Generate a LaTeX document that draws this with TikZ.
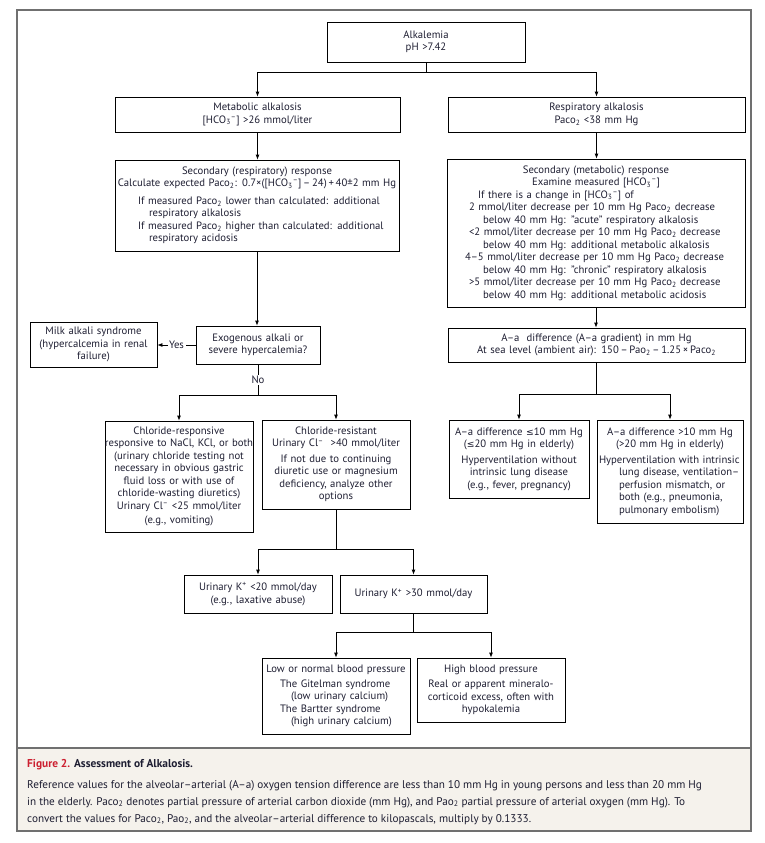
\documentclass[tikz,border=0pt]{standalone}
\usepackage{fontspec}
\setmainfont{PT Sans}
\newfontfamily\symfont[Scale=0.86]{DejaVu Sans}
\usetikzlibrary{arrows.meta}
\definecolor{inkblue}{RGB}{30,30,50}
\definecolor{framegray}{RGB}{112,112,112}
\definecolor{capfill}{RGB}{245,242,236}
\definecolor{figred}{RGB}{204,32,48}
\newcommand{\pco}{Paco\textsubscript{2}}
\newcommand{\pao}{Pao\textsubscript{2}}
\newcommand{\hco}{[HCO\textsubscript{3}\textsuperscript{–}]}
\newcommand{\lesym}{{\symfont ≤}}
\newcommand{\wide}[1]{\makebox[\linewidth][c]{#1}}
\newcommand{\boxfont}{\fontsize{10.7}{12.5}\selectfont}
\newcommand{\capfont}{\fontsize{11.2}{17}\selectfont}

\begin{document}
\begin{tikzpicture}[x=1pt,y=-1pt,
  box/.style={draw, line width=0.8pt, inner xsep=3pt, inner ysep=0pt, font=\boxfont, text=inkblue},
  arr/.style={line width=0.8pt, -{Latex[length=5pt,width=4pt]}},
  stem/.style={line width=0.8pt},
  lbl/.style={font=\boxfont, text=inkblue, fill=white, inner sep=1.5pt}]
  \useasboundingbox (0,0) rectangle (764,843);
  \fill[capfill] (17,748) rectangle (751,831);
  \draw[framegray, line width=1.5pt] (17,748) -- (751,748);
  \draw[framegray, line width=2pt] (17,10) rectangle (751,831);

  \node[box, align=center, text width=192pt, minimum height=40pt] (top) at (426,42)
    {Alkalemia\\ pH >7.42};
  \node[box, align=center, text width=279pt, minimum height=35pt] (metab) at (257.5,114.5)
    {Metabolic alkalosis\\ \hco{} >26 mmol/liter};
  \node[box, align=center, text width=291pt, minimum height=35pt] (resp) at (596.5,114.5)
    {Respiratory alkalosis\\ \pco{} <38 mm Hg};

  \node[box, text width=278pt, minimum height=91pt] (secresp) at (257,205.5)
    {\centering Secondary (respiratory) response\\
     \wide{Calculate expected \pco: 0.7×([HCO\textsubscript{3}\textsuperscript{–}]\,–\,24)\,+\,40±2 mm Hg}\par
     \vspace{5pt}\raggedright\leftskip=20pt
     If measured \pco{} lower than calculated: additional\\
     \hspace*{11pt}respiratory alkalosis\\
     If measured \pco{} higher than calculated: additional\\
     \hspace*{11pt}respiratory acidosis\par};
  \node[box, text width=292pt, minimum height=148pt] (secmet) at (596,233)
    {\centering Secondary (metabolic) response\\
     Examine measured \hco\par
     \raggedright\leftskip=19pt
     \hspace*{9pt}If there is a change in \hco{} of\\
     2 mmol/liter decrease per 10 mm Hg \pco{} decrease\\
     \hspace*{14pt}below 40 mm Hg: "acute" respiratory alkalosis\\
     <2 mmol/liter decrease per 10 mm Hg \pco{} decrease\\
     \hspace*{14pt}below 40 mm Hg: additional metabolic alkalosis\\
     \hspace*{-4pt}4–5 mmol/liter decrease per 10 mm Hg \pco{} decrease\\
     \hspace*{14pt}below 40 mm Hg: "chronic" respiratory alkalosis\\
     >5 mmol/liter decrease per 10 mm Hg \pco{} decrease\\
     \hspace*{14pt}below 40 mm Hg: additional metabolic acidosis\par};
  \node[box, align=center, text width=291pt, minimum height=34pt] (aa) at (596.5,345)
    {A–a\ \ difference (A–a gradient) in mm Hg\\
     At sea level (ambient air): 150\,–\,\pao\,–\,1.25\,×\,\pco};

  \node[box, align=center, text width=118pt, minimum height=38pt] (exo) at (258,345)
    {Exogenous alkali or\\ severe hypercalemia?};
  \node[box, align=center, text width=121pt, minimum height=45pt] (milk) at (93.5,344.5)
    {Milk alkali syndrome\\ (hypercalcemia in renal\\ failure)};

  \node[box, text width=142pt, minimum height=111pt] (clresp) at (179,476.5)
    {\centering Chloride-responsive\\ \wide{responsive to NaCl, KCl, or both}\\
     (urinary chloride testing not\\ necessary in obvious gastric\\
     fluid loss or with use of\\ chloride-wasting diuretics)\\
     Urinary Cl\textsuperscript{–} <25 mmol/liter\\[2pt] (e.g., vomiting)\par};
  \node[box, align=center, text width=142pt, minimum height=89pt] (clres) at (336,464.5)
    {Chloride-resistant\\ Urinary Cl\textsuperscript{–} \ >40 mmol/liter\\[3pt]
     If not due to continuing\\ diuretic use or magnesium\\ deficiency, analyze other\\ options};

  \node[box, align=center, text width=134pt, minimum height=78pt] (aalow) at (519,459)
    {A–a difference \lesym10 mm Hg\\ (\lesym20 mm Hg in elderly)\\[3pt]
     Hyperventilation without\\ intrinsic lung disease\\ (e.g., fever, pregnancy)};
  \node[box, inner xsep=1pt, text width=144pt, minimum height=103pt] (aahigh) at (670,471.5)
    {\centering A–a difference >10 mm Hg\\ (>20 mm Hg in elderly)\par
     \vspace{3pt}\raggedright \hspace*{1pt}\mbox{Hyperventilation with intrinsic}\\
     \hspace*{21pt}lung disease, ventilation–\\
     \hspace*{21pt}perfusion mismatch, or\\
     \hspace*{21pt}both (e.g., pneumonia,\\
     \hspace*{21pt}pulmonary embolism)\par};

  \node[box, align=center, text width=142pt, minimum height=38pt] (klow) at (258,594)
    {Urinary K\textsuperscript{+} <20 mmol/day\\ (e.g., laxative abuse)};
  \node[box, align=center, text width=141pt, minimum height=38pt] (khigh) at (413.5,594)
    {Urinary K\textsuperscript{+} >30 mmol/day};

  \node[box, text width=142pt, minimum height=76pt] (bplow) at (336,696)
    {\centering \wide{Low or normal blood pressure}\par
     \vspace{2pt}\raggedright\leftskip=15pt
     The Gitelman syndrome\\ \hspace*{11pt}(low urinary calcium)\\
     The Bartter syndrome\\ \hspace*{11pt}(high urinary calcium)\par};
  \node[box, align=center, text width=142pt, minimum height=64pt] (bphigh) at (491,690)
    {High blood pressure\\[3pt] Real or apparent mineralo-\\
     corticoid excess, often with\\ hypokalemia};

  \draw[stem] (top.south) -- ++(0,10) coordinate (topjoin);
  \draw[arr] (topjoin) -| (metab);
  \draw[arr] (topjoin) -| (resp);
  \draw[arr] (metab.south) -- (metab.south |- secresp.north);
  \draw[arr] (secresp.south) -- (secresp.south |- exo.north);
  \draw[arr] (exo.west) -- node[lbl] {Yes} (exo.west -| milk.east);
  \draw[stem] (exo.south) -- node[lbl] {No} ++(0,31) coordinate (nojoin);
  \draw[arr] (nojoin) -| (clresp);
  \draw[arr] (nojoin) -| (clres);
  \draw[stem] (clres.south) -- ++(0,40) coordinate (kjoin);
  \draw[arr] (kjoin) -| (klow);
  \draw[arr] (kjoin) -| (khigh);
  \draw[stem] (khigh.south) -- ++(0,19) coordinate (bpjoin);
  \draw[arr] (bpjoin) -| (bplow);
  \draw[arr] (bpjoin) -| (bphigh);
  \draw[arr] (resp.south) -- (resp.south |- secmet.north);
  \draw[arr] (secmet.south) -- (secmet.south |- aa.north);
  \draw[stem] (aa.south) -- ++(0,32) coordinate (aajoin);
  \draw[arr] (aajoin) -| (aalow);
  \draw[arr] (aajoin) -| (aahigh);

  \node[anchor=base west, inner sep=0, text=inkblue, font=\bfseries\fontsize{11.4}{13}\selectfont] (captitle) at (27,767)
    {\textcolor{figred}{Figure 2.} Assessment of Alkalosis.};
  \node[anchor=base west, inner sep=0, text=inkblue, font=\capfont] (capline1) at (27,788)
    {Reference values for the alveolar–arterial (A–a) oxygen tension difference are less than 10 mm Hg in young persons and less than 20 mm Hg};
  \node[anchor=base west, inner sep=0, text=inkblue, font=\capfont] (capline2) at (27,805)
    {in the elderly. \pco{} denotes partial pressure of arterial carbon dioxide (mm Hg), and \pao{} partial pressure of arterial oxygen (mm Hg). To};
  \node[anchor=base west, inner sep=0, text=inkblue, font=\capfont] (capline3) at (27,822)
    {convert the values for \pco, \pao, and the alveolar–arterial difference to kilopascals, multiply by 0.1333.};
\end{tikzpicture}
\end{document}
